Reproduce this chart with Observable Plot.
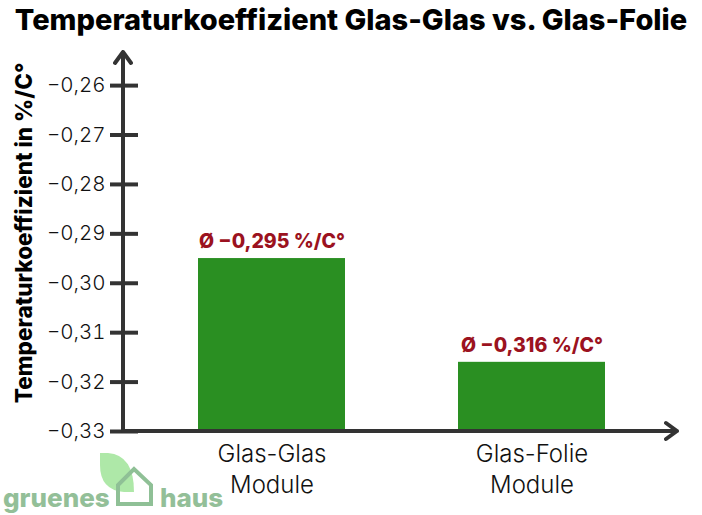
<!DOCTYPE html>
<html><head><meta charset="utf-8">
<script src="https://cdn.jsdelivr.net/npm/d3@7"></script>
<script src="https://cdn.jsdelivr.net/npm/@observablehq/plot@0.6"></script>
<style>
html,body{margin:0;padding:0;background:#fff;overflow:hidden}
#wrap{position:relative;width:702px;height:515px}
h1{margin:0;height:40px;font:800 29px/40px Inter,sans-serif;color:#000;text-align:center;white-space:nowrap}
#logo{position:absolute;left:0;top:0;pointer-events:none}
svg{display:block}
</style></head><body>
<div id="wrap"><h1>Temperaturkoeffizient Glas-Glas vs. Glas-Folie</h1><div id="chart"></div>
<svg id="logo" width="702" height="515">
<path d="M100 453 L108 453 Q134 455 134 492 L124 492 Q100 490 100 465 Z" fill="#aee8a8"/>
<path d="M118 504 L118 485 L134 469 L151 485 L151 504 Z" fill="none" stroke="#8fc096" stroke-width="4"/>
<text x="3" y="507" font-family="Inter" font-weight="800" font-size="26" fill="#93bf98">gruenes</text>
<text x="160" y="507" font-family="Inter" font-weight="800" font-size="26" fill="#93bf98">haus</text>
</svg></div>
<script>
const categories = ["Glas-Glas\nModule", "Glas-Folie\nModule"];
const values = [-0.295, -0.316];
const valueLabels = ["Ø −0,295 %/C°", "Ø −0,316 %/C°"];
const yTicks = [-0.26, -0.27, -0.28, -0.29, -0.30, -0.31, -0.32, -0.33];
const yBase = -0.33;
const yTop = -0.2533;
const yLabel = "Temperaturkoeffizient in %/C°";
const axisColor = "#333333";
const rows = categories.map((c, i) => ({c, v: values[i], t: valueLabels[i]}));
const tickText = d => "−" + Math.abs(d).toFixed(2).replace(".", ",");
const font = "Inter, sans-serif";

function arrows(index, scales, values, dim) {
  const g = d3.create("svg:g").attr("fill","none").attr("stroke",axisColor)
    .attr("stroke-width",4).attr("stroke-linecap","round").attr("stroke-linejoin","round");
  const l = dim.marginLeft, b = dim.height - dim.marginBottom, t = dim.marginTop, r = dim.width - dim.marginRight;
  g.append("path").attr("d",`M${l} ${b}V${t}M${l-8} ${t+11}L${l} ${t}L${l+8} ${t+11}`);
  g.append("path").attr("d",`M${l} ${b}H${r}M${r-11} ${b-8}L${r} ${b}L${r-11} ${b+8}`);
  return g.node();
}

const chart = Plot.plot({
  width: 702, height: 475,
  marginTop: 12, marginLeft: 123, marginRight: 25, marginBottom: 84,
  style: {fontFamily: font, background: "transparent"},
  x: {domain: categories, paddingInner: 0.433, paddingOuter: 0.278, align: 0.515},
  y: {domain: [yBase, yTop]},
  marks: [
    Plot.barY(rows, {x: "c", y1: () => yBase, y2: "v", fill: "#2a8f22"}),
    Plot.axisY({ticks: yTicks, tickSize: 28, dx: 15, tickPadding: 5, tickFormat: tickText, label: null,
      stroke: axisColor, strokeWidth: 4, fill: "#111", fontSize: 20.5, fontWeight: 300}),
    Plot.axisX({tickSize: 0, tickPadding: 9, label: null, fontSize: 24, fontWeight: 300, fill: "#111", lineHeight: 1.28,
      textAnchor: "middle", lineAnchor: "top"}),
    Plot.text(rows, {x: "c", y: "v", text: "t", dy: -17, fill: "#9b1220", fontSize: 19.5, fontWeight: 800}),
    Plot.text([yLabel], {frameAnchor: "left", textAnchor: "middle", rotate: -90, dx: -99, dy: -9, fontSize: 22.5, fontWeight: 800, fill: "#000"}),
    arrows
  ]
});
document.getElementById("chart").append(chart);
</script></body></html>
